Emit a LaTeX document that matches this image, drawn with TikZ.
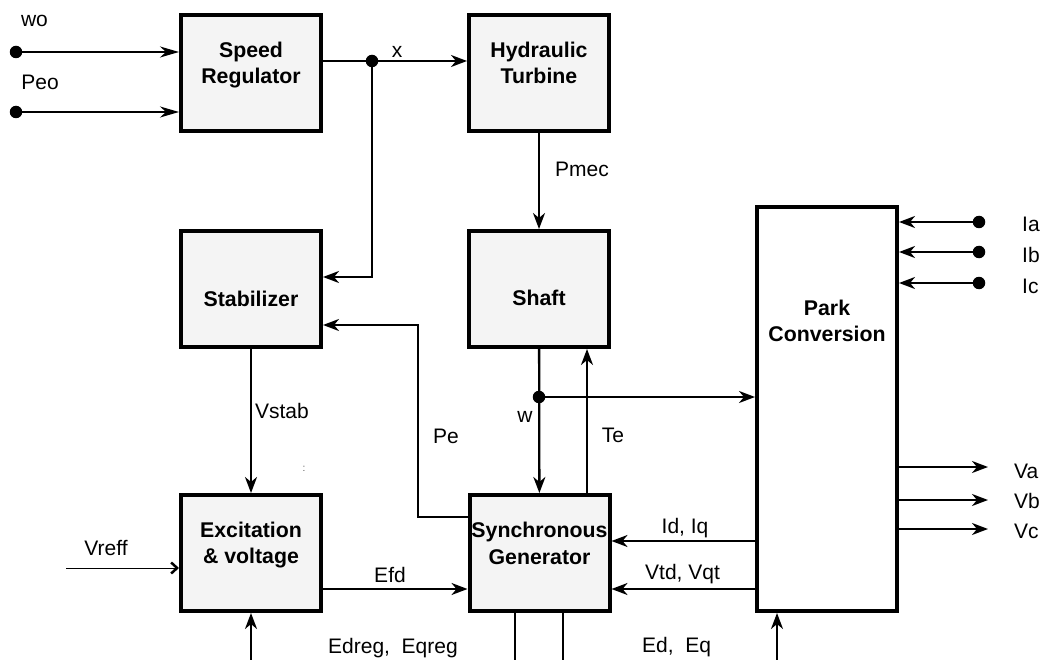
\documentclass[tikz,border=0pt]{standalone}
\usepackage{fontspec}
\setmainfont{Liberation Sans}
\usetikzlibrary{arrows.meta}
\definecolor{boxgray}{HTML}{F4F4F4}
\tikzset{
  blk/.style={draw, line width=4pt, fill=boxgray, minimum width=140pt, minimum height=116pt, inner sep=0pt},
  btxt/.style={font=\fontsize{21.3}{26.5}\selectfont\bfseries, align=center, inner sep=0pt},
  lbl/.style={font=\fontsize{21}{24}\selectfont, inner sep=0pt, anchor=base},
  dot/.style={circle, fill, inner sep=0pt, minimum size=12.5pt},
  wire/.style={line width=2.3pt},
  conn/.style={line width=2.3pt, -{Stealth[length=16pt,width=12pt,inset=5pt]}},
  inarr/.style={line width=1.6pt, -{Stealth[length=19pt,width=11pt,inset=6pt]}},
  thinarr/.style={line width=1pt, -{Straight Barb[length=6pt,width=11pt,line width=2.5pt]}}
}
\begin{document}
\begin{tikzpicture}[x=1pt,y=-1pt]
\useasboundingbox (0,0) rectangle (1043,660);
\node[blk] (sreg) at (251,73) {};
\node[blk] (turb) at (539,73) {};
\node[blk] (stab) at (251,289) {};
\node[blk] (shaft) at (539,289) {};
\node[blk] (exc) at (251,553) {};
\node[blk] (gen) at (539.5,553) {};
\node[blk, fill=white, minimum height=404pt] (park) at (827,409) {};
\node[btxt] (sregt) at (251,65) {Speed\\Regulator};
\node[btxt] (turbt) at (539,63) {Hydraulic\\Turbine};
\node[btxt] (stabt) at (251,298.5) {Stabilizer};
\node[btxt] (shaftt) at (539,298) {Shaft};
\node[btxt] (exct) at (251,545) {Excitation\\\& voltage};
\node[btxt] (gent) at (539.5,543.5) {Synchronous\\Generator};
\node[btxt] (parkt) at (827,321) {Park\\Conversion};
\node[dot] (wo) at (16,52) {};
\node[dot] (peo) at (16,112) {};
\node[dot] (jx) at (372,61) {};
\node[dot] (wdot) at (539,397) {};
\node[dot] (ia) at (979,222) {};
\node[dot] (ib) at (979,252) {};
\node[dot] (ic) at (979,283) {};
\coordinate (vr) at (66,568);
\coordinate (eb) at (251,660);
\coordinate (g1) at (515,660);
\coordinate (g2) at (563,660);
\coordinate (pb) at (777,660);
\coordinate (te) at (587,420);
\coordinate (va) at (988,467);
\coordinate (vb) at (988,500);
\coordinate (vc) at (988,529);
\draw[inarr] (wo) -- (wo -| sreg.west);
\draw[inarr] (peo) -- (peo -| sreg.west);
\draw[conn] (sreg.east |- jx) -- (turb.west |- jx);
\draw[conn] (jx.center) -- (372,277) -- (stab.east |- 0,277);
\draw[conn] (gen.west |- 0,517) -- (418,517) -- (418,325) -- (stab.east |- 0,325);
\draw[conn] (stab) -- (exc);
\draw[thinarr] (vr) -- (vr -| exc.west);
\draw[conn] (exc.east |- 0,589) -- (gen.west |- 0,589);
\draw[conn] (eb) -- (exc);
\draw[wire] (g1 |- gen.south) -- (g1);
\draw[wire] (g2 |- gen.south) -- (g2);
\draw[conn] (pb) -- (pb |- park.south);
\draw[conn] (turb) -- (shaft);
\draw[conn] (shaft) -- (gen);
\draw[conn] (wdot.center) -- (wdot -| park.west);
\draw[conn] (te |- gen.north) -- (te |- shaft.south);
\draw[conn] (park.west |- 0,541) -- (gen.east |- 0,541);
\draw[conn] (park.west |- 0,589) -- (gen.east |- 0,589);
\draw[conn] (ia) -- (ia -| park.east);
\draw[conn] (ib) -- (ib -| park.east);
\draw[conn] (ic) -- (ic -| park.east);
\draw[conn] (va -| park.east) -- (va);
\draw[conn] (vb -| park.east) -- (vb);
\draw[conn] (vc -| park.east) -- (vc);
\node[lbl] (wol) at (34.5,27) {wo};
\node[lbl] (peol) at (40,90) {Peo};
\node[lbl] (xl) at (397,58) {x};
\node[lbl] (pmecl) at (582,177) {Pmec};
\node[lbl] (vstabl) at (282,418) {Vstab};
\node[lbl] (pel) at (446,443) {Pe};
\node[lbl] (wl) at (525,422) {w};
\node[lbl] (tel) at (613,442) {Te};
\node[lbl] (vrefl) at (106,555) {Vreff};
\node[lbl] (efdl) at (390,582) {Efd};
\node[lbl, anchor=base west] (edregl) at (328,653) {Edreg,\ \ Eqreg};
\node[lbl] (idl) at (685,533) {Id, Iq};
\node[lbl] (vtdl) at (682.5,579) {Vtd, Vqt};
\node[lbl, anchor=base west] (edl) at (642,652) {Ed,\ \ Eq};
\node[lbl, anchor=base west] (ial) at (1022,232) {Ia};
\node[lbl, anchor=base west] (ibl) at (1022,262) {Ib};
\node[lbl, anchor=base west] (icl) at (1022,293) {Ic};
\node[lbl, anchor=base west] (val) at (1014,478) {Va};
\node[lbl, anchor=base west] (vbl) at (1014,508) {Vb};
\node[lbl, anchor=base west] (vcl) at (1014,538) {Vc};
\node[font=\fontsize{10}{10}\selectfont, text=gray!70!black, inner sep=0pt] (mark) at (304,469) {:};
\end{tikzpicture}
\end{document}
